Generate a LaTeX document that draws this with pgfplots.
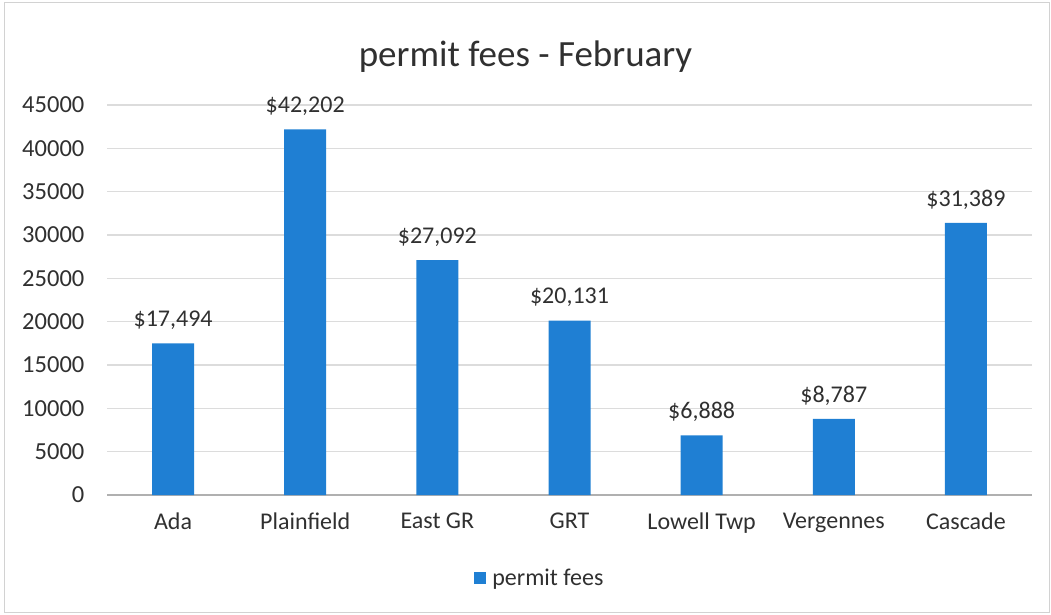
\documentclass[border=0pt]{standalone}
\usepackage{pgfplots}
\pgfplotsset{compat=1.18}
\usepackage{fontspec}
\setmainfont{Carlito}
\definecolor{barblue}{HTML}{1F7FD3}
\definecolor{txt}{HTML}{303030}
\definecolor{gridc}{HTML}{DCDCDC}
\begin{document}
\begin{tikzpicture}[x=1pt,y=1pt]
\useasboundingbox (0,0) rectangle (1051,614);
\draw[gray!35, line width=1pt] (4,2) rectangle (1049,611);
\node[font=\fontsize{37}{42}\selectfont, text=txt] at (525.5,557) {permit fees - February};
\begin{axis}[
  at={(107pt,119pt)}, anchor=south west,
  scale only axis, width=925pt, height=390pt,
  xmin=-0.5, xmax=6.5, ymin=0, ymax=45000,
  ytick={0,5000,...,45000},
  scaled y ticks=false,
  xtick={0,...,6},
  xticklabels={Ada,Plainfield,East GR,GRT,Lowell Twp,Vergennes,Cascade},
  ymajorgrids, grid style={gridc, line width=1.2pt},
  axis lines=left,
  y axis line style={draw=none},
  x axis line style={-, draw=gridc!80!black, line width=1.2pt},
  tick style={draw=none},
  yticklabel={\pgfmathprintnumber[fixed, precision=0, set thousands separator={}, assume math mode=true]{\tick}},
  yticklabel style={font=\fontsize{24.5}{28}\selectfont, text=txt, xshift=-17pt},
  xticklabel style={font=\fontsize{24}{28}\selectfont, text=txt, yshift=-10pt},
  ybar, bar width=42pt,
  nodes near coords,
  point meta=explicit symbolic,
  nodes near coords style={font=\fontsize{24}{28}\selectfont, text=txt, yshift=10pt},
  legend style={at={(0.468,-0.213)}, anchor=center, draw=none, fill=none,
    font=\fontsize{24}{28}\selectfont, text=txt},
  legend image code/.code={\fill[barblue] (0pt,-6pt) rectangle (12pt,6pt);},
  clip=false,
]
\addplot[fill=barblue, draw=none] coordinates {
  (0,17494) [\$17,494]
  (1,42202) [\$42,202]
  (2,27092) [\$27,092]
  (3,20131) [\$20,131]
  (4,6888) [\$6,888]
  (5,8787) [\$8,787]
  (6,31389) [\$31,389]
};
\addlegendentry{\hspace{4pt}permit fees}
\end{axis}
\end{tikzpicture}
\end{document}
